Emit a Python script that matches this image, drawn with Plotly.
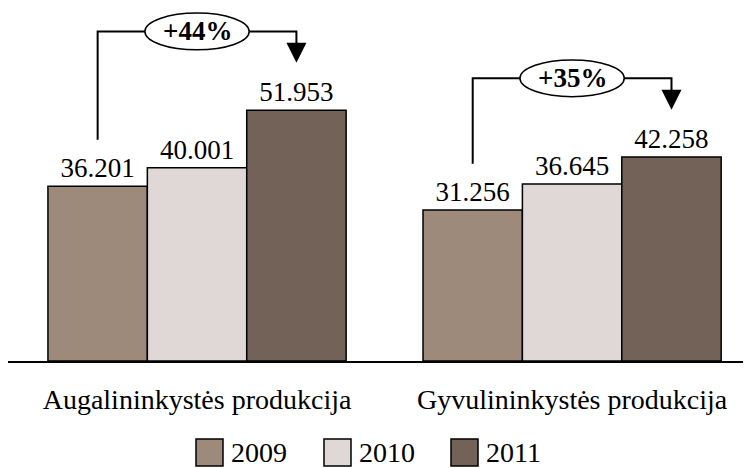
import plotly.graph_objects as go

categories = ["Augalininkystės produkcija", "Gyvulininkystės produkcija"]
years = ["2009", "2010", "2011"]
values_2009 = [36.201, 31.256]
values_2010 = [40.001, 36.645]
values_2011 = [51.953, 42.258]
growth_labels = ["+44%", "+35%"]

colors = ["#9E8A7B", "#E0D8D7", "#736257"]
series = [values_2009, values_2010, values_2011]
FONT = "Liberation Serif"

W, H = 743, 460          # page adds 8px body margin
PLOT_H = 351
BASE = 353               # baseline in figure px

xs = list(range(len(categories)))
fig = go.Figure()
for name, vals, col in zip(years, series, colors):
    fig.add_trace(go.Bar(
        x=xs, y=vals, name=name,
        marker=dict(color=col, line=dict(color="black", width=1.5)),
        text=[f"{v:.3f}" for v in vals], textposition="outside",
        textfont=dict(family=FONT, size=27, color="black"), cliponaxis=False,
        showlegend=False,
    ))

bargap = 0.205
bw = (1 - bargap) / 3

shapes = []
annotations = []
for i, cat in enumerate(categories):
    xl = i - bw
    xr = i + bw
    y_start = values_2009[i] + 9.6
    y_top = values_2011[i] + 16.3
    y_tip = values_2011[i] + 9.8
    shapes.append(dict(type="path", xref="x", yref="y",
                       path=f"M {xl},{y_start} L {xl},{y_top} L {xr},{y_top} L {xr},{y_tip + 2.5}",
                       line=dict(color="black", width=2)))
    annotations.append(dict(x=xr, y=y_tip, ax=xr, ay=y_tip + 3.0, xref="x", yref="y",
                            axref="x", ayref="y", text="", showarrow=True,
                            arrowhead=2, arrowsize=2.0, arrowwidth=2, arrowcolor="black"))
    ex = 0.139
    ey = 3.8
    shapes.append(dict(type="circle", xref="x", yref="y",
                       x0=i - ex, x1=i + ex, y0=y_top - ey, y1=y_top + ey,
                       fillcolor="white", line=dict(color="black", width=1.5), layer="above"))
    annotations.append(dict(x=i, y=y_top, xref="x", yref="y", text=f"<b>{growth_labels[i]}</b>",
                            showarrow=False, font=dict(family=FONT, size=27, color="black")))

# legend drawn manually (figure px coords)
leg_x = [188, 316, 443]
box = 27
for j, (name, col) in enumerate(zip(years, colors)):
    x0 = leg_x[j] / W
    x1 = (leg_x[j] + box) / W
    top = 431
    shapes.append(dict(type="rect", xref="paper", yref="paper",
                       x0=x0, x1=x1, y0=-(top + box - BASE) / PLOT_H, y1=-(top - BASE) / PLOT_H,
                       fillcolor=col, line=dict(color="black", width=1.5)))
    annotations.append(dict(x=(leg_x[j] + box + 6) / W, y=-(top + box / 2 - BASE) / PLOT_H,
                            xref="paper", yref="paper",
                            text=name, showarrow=False, xanchor="left", yanchor="middle",
                            font=dict(family=FONT, size=28, color="black")))

fig.update_layout(
    width=W, height=H, barmode="group", bargap=bargap, bargroupgap=0,
    margin=dict(l=0, r=0, t=BASE - PLOT_H, b=H - BASE),
    plot_bgcolor="white", paper_bgcolor="white",
    shapes=shapes, annotations=annotations,
    xaxis=dict(tickmode="array", tickvals=xs, ticktext=categories, range=[-0.504, 1.477],
               showline=True, linecolor="black", linewidth=2, ticks="", showgrid=False,
               zeroline=False, ticklabelstandoff=12,
               tickfont=dict(family=FONT, size=28, color="black")),
    yaxis=dict(range=[0, 72.7], visible=False, showgrid=False),
)
fig.write_html("out.html")
